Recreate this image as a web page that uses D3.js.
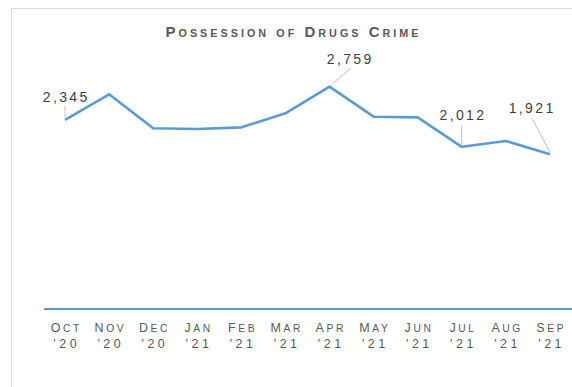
<!DOCTYPE html>
<html>
<head>
<meta charset="utf-8">
<script src="https://cdn.jsdelivr.net/npm/d3@7"></script>
<style>
  html, body { margin: 0; padding: 0; background: #fff; }
  svg { display: block; font-family: "Liberation Sans", Arial, sans-serif; }
</style>
</head>
<body>
<svg id="chart" width="572" height="387"></svg>
<script>
// Monthly possession-of-drugs offences, Oct 2020 – Sep 2021
const months = ["Oct", "Nov", "Dec", "Jan", "Feb", "Mar", "Apr", "May", "Jun", "Jul", "Aug", "Sep"];
const years = ["'20", "'20", "'20", "'21", "'21", "'21", "'21", "'21", "'21", "'21", "'21", "'21"];
const crimes = [2345, 2664, 2242, 2233, 2254, 2428, 2759, 2386, 2378, 2012, 2084, 1921];
// Months whose value is printed on the chart
const labelled = [0, 6, 9, 11];

const svg = d3.select("#chart");
const blue = "#5b9bd5";

// Small-caps text: capitals at full size, lower-case letters as smaller capitals
function smallCaps(textSel, str, big, small) {
  const runs = [];
  for (const ch of str) {
    const isSmall = ch !== ch.toUpperCase();
    const last = runs[runs.length - 1];
    if (last && last.small === isSmall) last.s += ch;
    else runs.push({ small: isSmall, s: ch });
  }
  runs.forEach(r => {
    textSel.append("tspan")
      .style("font-size", (r.small ? small : big) + "px")
      .text(r.s.toUpperCase());
  });
}

// Chart-area frame
svg.append("rect")
  .attr("x", 11.5).attr("y", 8.5)
  .attr("width", 600).attr("height", 400)
  .attr("fill", "#fff")
  .attr("stroke", "#d9d9d9")
  .attr("stroke-width", 1);

// Title
const title = svg.append("text")
  .attr("x", 293.5).attr("y", 36.7)
  .attr("text-anchor", "middle")
  .attr("fill", "#595959")
  .style("font-weight", "bold")
  .style("letter-spacing", "3px");
smallCaps(title, "Possession of Drugs Crime", 15, 10.8);

const x = d3.scalePoint()
  .domain(d3.range(months.length))
  .range([43, 572])
  .padding(0.5);

const y = d3.scaleLinear()
  .domain([0, 3000])
  .range([309, 309 - 3000 * 0.0806]);

// Category axis: baseline plus two-line month labels
const xAxis = svg.append("g").attr("transform", `translate(0,${y(0)})`)
  .call(d3.axisBottom(x).tickSize(0).tickFormat(""));
xAxis.select(".domain")
  .attr("d", "M44,0H572")
  .attr("stroke", blue)
  .attr("stroke-width", 2.2);

const lab = svg.append("g").attr("fill", "#595959");
lab.selectAll("text.m")
  .data(months)
  .join("text")
  .attr("class", "m")
  .attr("x", (d, i) => x(i) + 1.3)
  .attr("y", 331.7)
  .attr("text-anchor", "middle")
  .style("letter-spacing", "2.6px")
  .each(function (d) { smallCaps(d3.select(this), d, 12.5, 10.3); });
lab.selectAll("text.yr")
  .data(years)
  .join("text")
  .attr("class", "yr")
  .attr("x", (d, i) => x(i) + 1.7)
  .attr("y", 348.3)
  .attr("text-anchor", "middle")
  .style("font-size", "12.5px")
  .style("letter-spacing", "3.5px")
  .text(d => d);

// Series line
const line = d3.line()
  .x((d, i) => x(i))
  .y(d => y(d));

svg.append("path")
  .datum(crimes)
  .attr("d", line)
  .attr("fill", "none")
  .attr("stroke", blue)
  .attr("stroke-width", 2.6)
  .attr("stroke-linejoin", "round");

// Data labels with leader lines (offsets from each point)
const labelPos = {
  0: { dx: 0, dy: -18.3, lx1: 0, ly1: -3, lx2: 0, ly2: -14 },
  6: { dx: 19.5, dy: -22.8, lx1: 3, ly1: -3, lx2: 21, ly2: -18 },
  9: { dx: 0, dy: -26.7, lx1: 0, ly1: -1, lx2: 0, ly2: -21 },
  11: { dx: -19, dy: -40.7, lx1: 0, ly1: -2, lx2: -18, ly2: -36 }
};
const fmt = d3.format(",");
const dl = svg.append("g");
labelled.forEach(i => {
  const p = labelPos[i];
  const px = x(i), py = y(crimes[i]);
  dl.append("line")
    .attr("x1", px + p.lx1).attr("y1", py + p.ly1)
    .attr("x2", px + p.lx2).attr("y2", py + p.ly2)
    .attr("stroke", "#bfbfbf")
    .attr("stroke-width", 1);
  dl.append("text")
    .attr("x", px + p.dx + 1.2)
    .attr("y", py + p.dy)
    .attr("text-anchor", "middle")
    .attr("fill", "#404040")
    .style("font-size", "14px")
    .style("letter-spacing", "2.4px")
    .text(fmt(crimes[i]));
});
</script>
</body>
</html>
